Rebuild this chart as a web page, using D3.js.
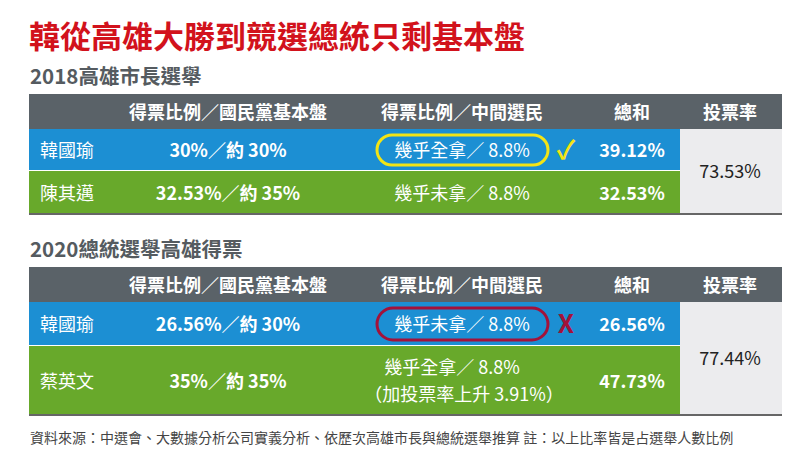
<!DOCTYPE html>
<html><head><meta charset="utf-8">
<script src="https://cdn.jsdelivr.net/npm/d3@7"></script>
<style>body{margin:0;background:#fff}svg{display:block;font-family:"Noto Sans CJK TC","Noto Sans",sans-serif}</style>
</head><body><svg width="800" height="459"></svg>
<script>
const title = "韓從高雄大勝到競選總統只剩基本盤";
const headers = ["", "得票比例／國民黨基本盤", "得票比例／中間選民", "總和", "投票率"];
const sections = ["2018高雄市長選舉", "2020總統選舉高雄得票"];
const names2018 = ["韓國瑜", "陳其邁"];
const base2018 = ["30%／約 30%", "32.53%／約 35%"];
const middle2018 = [["幾乎全拿／ 8.8%"], ["幾乎未拿／ 8.8%"]];
const total2018 = ["39.12%", "32.53%"];
const turnout2018 = "73.53%";
const names2020 = ["韓國瑜", "蔡英文"];
const base2020 = ["26.56%／約 30%", "35%／約 35%"];
const middle2020 = [["幾乎未拿／ 8.8%"], ["幾乎全拿／ 8.8%", "（加投票率上升 3.91%）"]];
const total2020 = ["26.56%", "47.73%"];
const turnout2020 = "77.44%";
const source = "資料來源：中選會、大數據分析公司實義分析、依歷次高雄市長與總統選舉推算  註：以上比率皆是占選舉人數比例";

const svg = d3.select("svg");
const x = d3.scaleOrdinal().domain([0,1,2,3,4]).range([70, 228, 462, 632, 730]);
const colL = 29, colR = 782, turnL = 680;
const rowColors = ["#1c8fd3", "#68a92b"];

svg.append("text").attr("x", 29).attr("y", 48).attr("fill", "#d2121c")
  .attr("font-size", 31).attr("font-weight", 700).text(title);

function table(top, heights, sec, names, base, middle, total, turnout, mark) {
  svg.append("text").attr("x", 30).attr("y", top - 10).attr("fill", "#555b60")
    .attr("font-size", 20.5).attr("font-weight", 700).text(sec);
  const hH = 35;
  svg.append("rect").attr("x", colL).attr("y", top).attr("width", colR - colL).attr("height", hH).attr("fill", "#5a6268");
  headers.forEach((h, i) => svg.append("text").attr("x", x(i)).attr("y", top + 25).attr("text-anchor", "middle")
    .attr("fill", "#fff").attr("font-size", 18).attr("font-weight", 700).text(h));
  let y = top + hH;
  const ys = [];
  names.forEach((n, r) => {
    const h = heights[r];
    ys.push(y);
    svg.append("rect").attr("x", colL).attr("y", y).attr("width", turnL - colL).attr("height", h - 1).attr("fill", rowColors[r]);
    const cy = y + h / 2 + 7;
    const g = svg.append("g").attr("fill", "#fff").attr("font-size", 18).attr("font-weight", 700).attr("text-anchor", "middle");
    g.append("text").attr("x", 40).attr("y", cy).attr("text-anchor", "start").attr("font-weight", 400).text(n);
    g.append("text").attr("x", x(1)).attr("y", cy).text(base[r]);
    const m = middle[r];
    m.forEach((t, k) => g.append("text").attr("x", m.length > 1 ? (k ? 464 : 452) : x(2))
      .attr("y", cy + (k - (m.length - 1) / 2) * 27).attr("font-weight", 400).text(t));
    g.append("text").attr("x", x(3)).attr("y", cy).text(total[r]);
    y += h;
  });
  svg.append("rect").attr("x", turnL).attr("y", top + hH).attr("width", colR - turnL).attr("height", y - top - hH).attr("fill", "#ececee");
  svg.append("text").attr("x", x(4)).attr("y", (top + hH + y) / 2 + 6).attr("text-anchor", "middle")
    .attr("fill", "#222").attr("font-size", 18).text(turnout);
  svg.append("line").attr("x1", colL).attr("x2", colR).attr("y1", y).attr("y2", y).attr("stroke", "#666").attr("stroke-width", 2);
  const hy = ys[0] + 6, hh = heights[0] - 12;
  svg.append("rect").attr("x", 377).attr("y", hy).attr("width", 171).attr("height", hh).attr("rx", hh / 2)
    .attr("fill", "none").attr("stroke", mark.color).attr("stroke-width", 3);
  svg.append("text").attr("x", 566).attr("y", hy + hh / 2 + 9).attr("text-anchor", "middle")
    .attr("fill", mark.color).attr("font-size", 26).attr("font-weight", 700).text(mark.sym);
}

table(94, [42, 43], sections[0], names2018, base2018, middle2018, total2018, turnout2018, {color: "#f3e415", sym: "✓"});
table(267, [44, 69], sections[1], names2020, base2020, middle2020, total2020, turnout2020, {color: "#a3123a", sym: "X"});

svg.append("text").attr("x", 30).attr("y", 443).attr("fill", "#444").attr("font-size", 14).text(source);
</script></body></html>
